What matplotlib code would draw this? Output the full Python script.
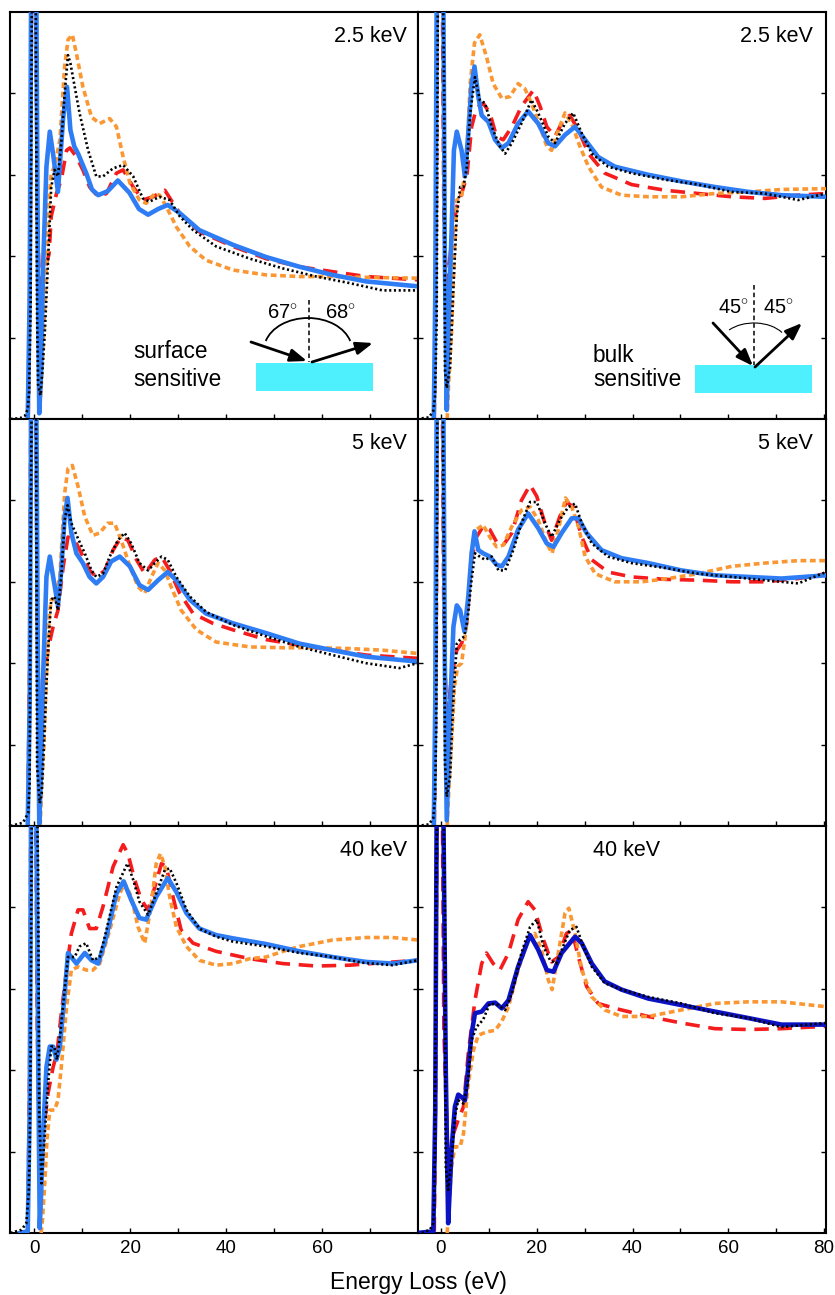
import matplotlib
matplotlib.use("Agg")
import matplotlib.pyplot as plt
from matplotlib.patches import Rectangle, Arc

plt.rcParams['font.family'] = ['Liberation Sans', 'DejaVu Sans']
plt.rcParams['mathtext.fontset'] = 'custom'
plt.rcParams['mathtext.rm'] = 'Liberation Sans'

# ---------------- data (energy loss in eV, intensity in arb. units) ----------------
# top-left: 2.5 keV, surface sensitive
tl_blue_x = [-1.4, -1.0, -0.7, -0.2, 0.4, 0.7, 1.0, 1.4, 1.8, 2.5, 3.2, 3.9, 4.9, 6.0, 6.8, 7.5, 8.3, 9.1, 10.8, 12.0, 13.3, 15.3,
             17.4, 19.8, 21.8, 23.7, 25.8, 27.8, 30.3, 34.4, 41.4, 48.3, 55.3, 62.2, 69.2, 79.9]
tl_blue_y = [0.02, 1.5, 5.2, 7.0, 5.2, 2.0, 0.07, 0.6, 1.87, 3.1, 3.53, 3.25, 2.79, 3.71, 4.08, 3.55, 3.35, 3.26, 3.02, 2.82, 2.75, 2.8,
             2.93, 2.78, 2.58, 2.51, 2.58, 2.63, 2.53, 2.32, 2.14, 1.99, 1.87, 1.77, 1.69, 1.63]
tl_black_x = [-5, -3, -2, -1.4, -1.1, -0.8, -0.5, 0.2, 0.55, 0.76, 1.25, 1.67, 2.15, 2.6, 3.05, 3.5, 4.2, 4.9, 5.6, 6.3, 7.0, 7.5,
              8.4, 9.4, 11.2, 12.9, 14.3, 16.4, 18.5, 20.6, 22.6, 24.0, 26.1, 28.2, 30.3, 33.1, 37.9, 44.9, 51.8, 58.8, 65.7, 72.6, 79.9]
tl_black_y = [0.0, 0.01, 0.04, 0.12, 0.34, 1.42, 6.0, 6.0, 1.26, 0.42, 0.29, 0.6, 1.05, 1.63, 2.24, 2.85, 3.06, 2.98, 3.39, 4.0, 4.47, 4.37,
              4.08, 3.76, 3.3, 2.98, 2.98, 3.08, 3.12, 2.98, 2.71, 2.67, 2.73, 2.69, 2.49, 2.32, 2.12, 1.97, 1.85, 1.75, 1.67, 1.58, 1.58]
tl_red_x = [-1.3, -0.9, -0.5, 0.2, 0.6, 1.1, 2.0, 3.05, 3.5, 4.6, 5.6, 6.7, 7.4, 8.75, 10.1, 11.5, 13.3, 15.0, 17.1, 18.5, 20.6,
            22.6, 24.7, 27.2, 28.5, 30.3, 34.4, 41.4, 48.3, 55.3, 62.2, 69.2, 79.9]
tl_red_y = [0.02, 2.0, 6.0, 6.0, 2.5, 1.54, 1.8, 2.03, 2.49, 2.77, 2.94, 3.3, 3.33, 3.22, 3.06, 2.85, 2.73, 2.77, 3.02, 3.06, 2.85,
            2.69, 2.73, 2.81, 2.69, 2.53, 2.30, 2.12, 1.97, 1.87, 1.81, 1.75, 1.71]
tl_orange_x = [1.0, 1.46, 1.9, 2.5, 3.05, 3.5, 4.2, 5.3, 6.3, 7.0, 7.9, 8.75, 10.1, 11.9, 13.6, 15.7, 17.1, 18.5, 19.9, 21.9, 23.3,
               25.1, 26.1, 27.5, 29.6, 32.4, 35.8, 41.4, 48.3, 55.3, 62.2, 69.2, 79.9]
tl_orange_y = [0.05, 0.44, 1.05, 1.87, 2.69, 3.02, 3.1, 3.43, 4.33, 4.66, 4.72, 4.49, 4.08, 3.71, 3.63, 3.69, 3.59, 3.22, 2.9, 2.69, 2.65,
               2.77, 2.75, 2.61, 2.36, 2.12, 1.95, 1.83, 1.77, 1.75, 1.75, 1.74, 1.73]

# top-right: 2.5 keV, bulk sensitive
tr_blue_x = [-1.5, -1.2, -0.9, -0.3, 0.5, 0.8, 1.2, 1.6, 2.2, 2.7, 3.3, 4.3, 5.0, 5.7, 6.4, 7.0, 7.8, 8.5, 9.9, 11.3, 12.7, 14.1,
             16.1, 18.2, 20.3, 22.4, 23.8, 25.9, 28.0, 30.1, 32.8, 36.3, 43.3, 50.2, 57.2, 64.2, 71.1, 80.4]
tr_blue_y = [0.02, 1.5, 5.2, 7.0, 5.2, 2.0, 0.11, 1.2, 2.28, 3.3, 3.53, 3.3, 2.98, 3.51, 4.12, 4.33, 3.96, 3.73, 3.65, 3.43, 3.33, 3.39,
             3.63, 3.78, 3.63, 3.39, 3.35, 3.49, 3.59, 3.43, 3.22, 3.1, 3.0, 2.92, 2.85, 2.79, 2.75, 2.73]
tr_black_x = [-5, -2.5, -1.6, -1.25, -0.9, -0.6, 0.3, 0.7, 0.84, 1.2, 1.9, 2.6, 3.3, 4.0, 4.7, 5.4, 6.1, 7.1, 8.1, 9.2, 10.6, 12.3,
              13.4, 14.8, 16.8, 18.9, 20.3, 22.4, 23.8, 25.9, 27.6, 29.4, 31.5, 34.9, 39.8, 46.8, 53.7, 60.7, 67.6, 74.6, 80.4]
tr_black_y = [0.0, 0.02, 0.1, 0.27, 1.2, 6.0, 6.0, 3.8, 0.6, 0.38, 0.64, 1.63, 2.49, 2.85, 2.85, 3.1, 3.76, 4.2, 3.92, 3.88, 3.59, 3.35,
              3.26, 3.39, 3.63, 3.92, 3.76, 3.47, 3.39, 3.63, 3.76, 3.51, 3.26, 3.1, 3.02, 2.94, 2.88, 2.79, 2.77, 2.69, 2.77]
tr_red_x = [-1.4, -1.0, -0.7, 0.2, 0.6, 1.2, 2.2, 3.3, 4.3, 5.4, 6.4, 7.4, 8.8, 10.2, 11.6, 13.0, 14.8, 16.8, 19.3, 20.7, 22.1,
            23.8, 25.5, 26.9, 28.7, 30.8, 34.2, 39.8, 46.8, 53.7, 60.7, 67.6, 74.6, 80.4]
tr_red_y = [0.02, 2.0, 6.0, 6.0, 2.5, 1.54, 2.2, 2.61, 2.77, 2.98, 3.59, 3.82, 3.88, 3.76, 3.47, 3.43, 3.59, 3.84, 4.04, 3.84, 3.59,
            3.47, 3.67, 3.73, 3.55, 3.26, 3.02, 2.88, 2.81, 2.77, 2.73, 2.71, 2.75, 2.77]
tr_orange_x = [1.3, 1.5, 2.2, 2.8, 3.3, 4.3, 5.4, 6.1, 7.0, 8.1, 9.5, 10.9, 12.7, 14.4, 16.1, 17.5, 18.9, 20.7, 22.1, 23.1, 24.5,
               25.9, 27.3, 29.0, 30.8, 33.5, 37.7, 43.3, 50.2, 57.2, 64.2, 71.1, 80.4]
tr_orange_y = [0.0, 0.32, 1.05, 2.06, 2.69, 2.73, 3.22, 4.12, 4.62, 4.72, 4.45, 4.12, 3.94, 3.96, 4.12, 4.06, 3.88, 3.59, 3.35, 3.3, 3.55,
               3.76, 3.63, 3.35, 3.1, 2.85, 2.75, 2.73, 2.73, 2.77, 2.79, 2.82, 2.83]

# middle-left: 5 keV, surface
ml_blue_x = [-1.4, -1.0, -0.7, -0.2, 0.4, 0.7, 1.0, 1.4, 1.8, 2.5, 3.2, 3.9, 4.9, 5.6, 6.3, 6.9, 7.7, 8.75, 10.1, 11.5, 12.9, 14.3,
             16.0, 17.8, 19.9, 21.9, 23.7, 25.8, 27.8, 29.6, 32.4, 35.8, 41.4, 48.3, 55.3, 62.2, 69.2, 79.9]
ml_blue_y = [0.02, 1.5, 5.2, 7.0, 5.2, 2.0, 0.03, 0.7, 1.83, 3.06, 3.31, 3.06, 2.71, 3.14, 3.8, 4.03, 3.6, 3.35, 3.23, 3.06, 2.98, 3.06,
             3.25, 3.31, 3.19, 2.96, 2.9, 3.02, 3.12, 3.02, 2.78, 2.61, 2.49, 2.37, 2.24, 2.16, 2.08, 2.02]
ml_black_x = [-5, -2.4, -1.3, -1.0, -0.8, -0.5, 0.3, 0.55, 1.1, 1.5, 2.0, 2.5, 3.05, 3.5, 4.2, 4.9, 5.6, 6.3, 6.9, 7.7, 9.1, 10.5,
              11.9, 12.9, 14.3, 15.7, 17.4, 18.8, 20.2, 21.9, 23.7, 25.1, 26.5, 27.8, 29.6, 32.4, 35.8, 41.4, 48.3, 55.3, 62.2, 69.2,
              76.1, 79.9]
ml_black_y = [0.0, 0.04, 0.16, 0.52, 3.3, 6.0, 6.0, 0.73, 0.28, 0.4, 1.02, 1.75, 2.37, 2.78, 2.82, 2.65, 3.06, 3.76, 3.94, 3.72, 3.53, 3.35,
              3.14, 3.06, 3.1, 3.31, 3.51, 3.6, 3.47, 3.23, 3.14, 3.23, 3.31, 3.27, 3.06, 2.82, 2.63, 2.47, 2.33, 2.2, 2.1, 2.0,
              1.94, 2.0]
ml_red_x = [-1.4, -1.0, -0.7, 0.2, 0.6, 1.0, 1.8, 2.8, 3.9, 4.9, 6.0, 7.0, 8.4, 9.8, 11.5, 12.9, 14.7, 16.4, 18.1, 19.5, 21.3,
            23.0, 25.1, 26.5, 28.2, 30.3, 33.1, 37.2, 41.4, 48.3, 55.3, 62.2, 69.2, 79.9]
ml_red_y = [0.02, 2.0, 6.0, 6.0, 2.5, 1.34, 1.75, 2.16, 2.45, 2.65, 3.19, 3.55, 3.51, 3.35, 3.14, 3.06, 3.14, 3.39, 3.55, 3.51, 3.27,
            3.1, 3.27, 3.31, 3.14, 2.86, 2.61, 2.49, 2.41, 2.29, 2.22, 2.16, 2.1, 2.06]
ml_orange_x = [1.2, 1.46, 2.0, 2.5, 3.05, 3.5, 4.2, 5.3, 6.3, 7.0, 7.9, 9.1, 10.5, 12.2, 13.6, 15.3, 16.7, 18.1, 19.9, 21.6, 23.0,
               24.4, 25.8, 27.2, 28.5, 30.6, 33.8, 37.9, 44.9, 51.8, 58.8, 65.7, 72.6, 79.9]
ml_orange_y = [0.0, 0.4, 1.02, 1.83, 2.57, 2.78, 2.78, 3.06, 4.09, 4.39, 4.43, 4.17, 3.8, 3.57, 3.6, 3.72, 3.72, 3.51, 3.19, 2.94, 2.86,
               3.06, 3.23, 3.14, 2.94, 2.65, 2.41, 2.26, 2.2, 2.19, 2.19, 2.18, 2.16, 2.12]

# middle-right: 5 keV, bulk
mr_blue_x = [-1.5, -1.2, -0.9, -0.3, 0.5, 0.8, 1.2, 1.9, 2.6, 3.3, 4.0, 4.9, 5.7, 6.4, 7.0, 7.8, 8.8, 10.2, 11.6, 12.7, 14.1,
             16.1, 18.2, 20.3, 22.1, 23.5, 25.2, 27.3, 28.7, 30.4, 33.5, 37.7, 43.3, 50.2, 57.2, 64.2, 71.1, 80.4]
mr_blue_y = [0.02, 1.5, 5.2, 7.0, 5.2, 2.0, 0.07, 1.43, 2.45, 2.71, 2.65, 2.39, 2.82, 3.35, 3.62, 3.39, 3.35, 3.31, 3.21, 3.19, 3.31,
             3.64, 3.84, 3.66, 3.47, 3.43, 3.6, 3.78, 3.78, 3.6, 3.39, 3.29, 3.23, 3.14, 3.08, 3.06, 3.04, 3.08]
mr_black_x = [-5, -2.5, -1.6, -1.25, -1.0, -0.7, 0.3, 0.7, 0.84, 1.2, 1.9, 2.6, 3.3, 4.0, 4.9, 5.6, 6.3, 7.1, 8.1, 9.2, 10.6, 12.0,
              13.4, 15.1, 16.8, 18.6, 20.0, 21.7, 23.1, 24.8, 26.6, 28.0, 29.4, 31.5, 34.9, 39.8, 46.8, 53.7, 60.7, 67.6, 74.6, 80.4]
mr_black_y = [0.0, 0.02, 0.1, 0.34, 1.16, 6.0, 6.0, 2.59, 0.77, 0.36, 0.61, 1.59, 2.24, 2.29, 2.33, 2.57, 2.98, 3.35, 3.31, 3.27, 3.31,
              3.14, 3.14, 3.39, 3.72, 3.98, 3.98, 3.72, 3.55, 3.76, 3.92, 3.96, 3.72, 3.47, 3.31, 3.23, 3.17, 3.1, 3.06, 3.02, 2.98, 3.12]
mr_red_x = [-1.4, -1.0, -0.7, 0.2, 0.6, 1.2, 2.2, 3.3, 4.3, 5.4, 6.4, 7.4, 8.8, 10.2, 11.6, 13.0, 14.8, 16.8, 18.6, 20.0, 21.7,
            23.1, 24.8, 26.2, 27.6, 29.4, 31.5, 34.9, 39.8, 46.8, 53.7, 60.7, 67.6, 74.6, 80.4]
mr_red_y = [0.02, 2.0, 6.0, 6.0, 2.5, 1.26, 1.83, 2.16, 2.24, 2.49, 3.27, 3.55, 3.68, 3.64, 3.49, 3.45, 3.6, 4.0, 4.19, 4.05, 3.72,
            3.51, 3.8, 3.98, 3.92, 3.55, 3.27, 3.12, 3.06, 3.03, 3.02, 3.0, 3.0, 3.04, 3.1]
mr_orange_x = [1.3, 1.5, 2.2, 2.8, 3.5, 4.3, 5.4, 6.4, 7.4, 8.8, 10.2, 11.6, 13.0, 14.8, 16.8, 18.6, 20.3, 22.1, 23.2, 24.5, 26.0,
               27.3, 28.7, 30.1, 32.2, 36.3, 41.9, 47.5, 53.7, 60.7, 67.6, 74.6, 80.4]
mr_orange_y = [0.0, 0.28, 1.02, 1.71, 1.96, 2.0, 2.49, 3.39, 3.64, 3.7, 3.55, 3.43, 3.45, 3.68, 3.88, 3.92, 3.76, 3.47, 3.35, 3.64, 4.03,
               3.92, 3.68, 3.31, 3.1, 3.0, 3.0, 3.04, 3.1, 3.19, 3.23, 3.26, 3.26]

# bottom-left: 40 keV, surface
bl_blue_x = [-3.0, -1.4, -1.0, -0.7, -0.2, 0.4, 0.8, 1.1, 1.4, 1.8, 2.5, 3.2, 3.9, 4.6, 5.3, 6.3, 7.0, 7.7, 8.75, 10.5, 11.9,
             13.3, 15.0, 17.1, 18.6, 20.2, 21.9, 23.3, 25.4, 27.8, 29.6, 31.7, 34.4, 37.9, 41.4, 48.3, 55.3, 62.2, 69.2, 74.7, 79.9]
bl_blue_y = [0.0, 0.02, 1.5, 5.2, 7.0, 5.2, 2.0, 0.06, 0.5, 1.22, 2.04, 2.29, 2.29, 2.13, 2.29, 2.94, 3.44, 3.39, 3.31, 3.44, 3.35,
             3.31, 3.64, 4.17, 4.32, 4.09, 3.87, 3.85, 4.13, 4.36, 4.19, 3.93, 3.74, 3.66, 3.62, 3.55, 3.46, 3.39, 3.33, 3.31, 3.35]
bl_black_x = [-5, -2.7, -1.7, -1.2, -1.0, -0.8, -0.5, 0.4, 0.76, 1.0, 1.46, 2.15, 2.85, 3.5, 4.1, 4.7, 5.4, 6.3, 7.0, 8.4, 9.4, 10.8,
              12.2, 13.6, 15.0, 17.1, 19.4, 20.6, 21.9, 23.7, 25.4, 27.2, 28.2, 29.6, 31.7, 34.4, 37.9, 41.4, 48.3, 55.3, 62.2, 68.5,
              74.7, 79.9]
bl_black_y = [0.0, 0.04, 0.12, 0.49, 0.94, 2.25, 6.0, 6.0, 4.42, 1.47, 0.61, 1.22, 1.84, 2.29, 2.29, 2.13, 2.45, 2.99, 3.39, 3.39, 3.52,
              3.56, 3.35, 3.39, 3.72, 4.25, 4.54, 4.34, 4.07, 3.91, 4.17, 4.46, 4.48, 4.3, 3.97, 3.74, 3.64, 3.58, 3.52, 3.44, 3.39,
              3.32, 3.29, 3.35]
bl_red_x = [-1.4, -1.0, -0.7, 0.2, 0.6, 1.1, 1.8, 2.85, 3.9, 4.7, 5.6, 6.7, 7.7, 9.1, 10.1, 11.5, 12.9, 14.3, 16.4, 18.5, 19.5,
            20.9, 22.3, 23.7, 25.1, 26.5, 27.5, 28.9, 30.6, 33.1, 37.9, 44.9, 51.8, 58.8, 65.7, 72.6, 79.9]
bl_red_y = [0.02, 2.0, 6.0, 6.0, 2.5, 0.9, 1.22, 1.72, 2.04, 2.21, 2.7, 3.23, 3.68, 3.97, 3.97, 3.74, 3.74, 4.01, 4.5, 4.77, 4.66,
            4.34, 4.09, 3.97, 4.25, 4.54, 4.5, 4.13, 3.72, 3.56, 3.46, 3.37, 3.31, 3.28, 3.29, 3.32, 3.35]
bl_orange_x = [1.4, 1.67, 2.15, 2.6, 3.2, 4.2, 4.9, 5.6, 6.7, 7.7, 9.1, 10.8, 12.2, 13.6, 15.7, 17.8, 18.8, 20.2, 21.6, 23.0, 24.4,
               25.4, 26.3, 27.2, 28.2, 29.6, 31.7, 34.4, 37.9, 41.4, 44.9, 48.3, 51.8, 55.3, 58.8, 62.2, 69.2, 74.7, 79.9]
bl_orange_y = [0.0, 0.16, 0.61, 1.14, 1.51, 1.51, 1.63, 2.04, 2.78, 3.23, 3.27, 3.23, 3.23, 3.31, 3.72, 4.17, 4.3, 4.13, 3.76, 3.56, 4.05,
               4.54, 4.66, 4.5, 4.13, 3.76, 3.52, 3.35, 3.29, 3.31, 3.37, 3.39, 3.46, 3.52, 3.56, 3.6, 3.63, 3.63, 3.6]

# bottom-right: 40 keV, bulk (theory drawn in dark blue here)
br_blue_x = [-5, -1.6, -1.2, -0.9, -0.4, 0.5, 1.0, 1.5, 1.8, 2.2, 2.9, 3.6, 4.3, 5.0, 5.7, 6.4, 7.1, 8.5, 9.9, 11.3, 12.7, 14.1,
             16.1, 18.6, 20.3, 22.1, 23.5, 25.2, 28.0, 29.4, 31.5, 34.2, 37.7, 43.3, 50.2, 57.2, 64.2, 71.1, 80.4]
br_blue_y = [0.0, 0.02, 1.5, 5.2, 7.0, 5.2, 2.0, 0.12, 0.5, 1.02, 1.55, 1.7, 1.67, 1.63, 2.04, 2.45, 2.7, 2.72, 2.82, 2.83, 2.76, 2.86,
             3.27, 3.66, 3.48, 3.23, 3.21, 3.44, 3.64, 3.56, 3.31, 3.09, 2.99, 2.88, 2.8, 2.72, 2.64, 2.56, 2.56]
br_black_x = [-5, -4.0, -2.3, -1.6, -1.4, -1.25, -1.0, -0.7, 0.4, 0.84, 1.0, 1.5, 2.2, 2.9, 3.6, 4.7, 5.6, 6.4, 7.4, 8.8, 10.2, 12.0,
              13.4, 14.8, 16.8, 18.6, 20.0, 21.4, 22.8, 24.1, 25.5, 26.9, 28.3, 29.7, 31.5, 34.2, 37.7, 43.3, 50.2, 57.2, 64.2, 71.1,
              80.4]
br_black_y = [0.0, 0.0, 0.04, 0.12, 0.41, 1.18, 4.25, 6.0, 6.0, 3.89, 0.81, 0.53, 0.9, 1.43, 1.63, 1.59, 1.84, 2.37, 2.53, 2.62, 2.82,
              2.8, 2.74, 2.94, 3.44, 3.76, 3.85, 3.52, 3.35, 3.31, 3.52, 3.72, 3.76, 3.52, 3.27, 3.07, 2.99, 2.9, 2.82, 2.7, 2.64,
              2.53, 2.58]
br_red_x = [-1.4, -1.1, -0.8, 0.2, 0.6, 1.5, 2.6, 3.6, 4.7, 5.7, 7.1, 8.5, 9.5, 10.9, 12.3, 14.1, 16.1, 18.2, 19.6, 21.4, 23.1,
            24.5, 26.2, 27.3, 28.7, 30.4, 32.8, 36.3, 43.3, 50.2, 57.2, 64.2, 71.1, 80.4]
br_red_y = [0.02, 2.0, 6.0, 6.0, 2.5, 0.81, 1.22, 1.39, 1.55, 2.21, 2.86, 3.31, 3.44, 3.31, 3.23, 3.44, 3.85, 4.07, 3.97, 3.6, 3.33,
            3.39, 3.68, 3.72, 3.39, 3.03, 2.82, 2.76, 2.66, 2.58, 2.51, 2.5, 2.51, 2.54]
br_orange_x = [1.3, 1.5, 2.2, 2.9, 4.0, 4.7, 5.7, 6.8, 7.8, 9.5, 11.3, 12.7, 14.1, 16.1, 18.2, 19.6, 21.0, 22.4, 23.2, 24.5, 25.9,
               26.7, 28.0, 29.4, 31.5, 34.2, 37.7, 43.3, 50.2, 57.2, 64.2, 71.1, 80.4]
br_orange_y = [0.0, 0.2, 0.81, 1.06, 1.06, 1.22, 1.84, 2.25, 2.43, 2.47, 2.49, 2.6, 2.78, 3.23, 3.6, 3.68, 3.48, 3.11, 2.99, 3.44, 3.93,
               3.99, 3.68, 3.23, 2.9, 2.74, 2.66, 2.66, 2.74, 2.82, 2.84, 2.84, 2.78]

panel_labels = ['2.5 keV', '2.5 keV', '5 keV', '5 keV', '40 keV', '40 keV']

BLUE = '#2f7df4'
DARKBLUE = '#0a12c4'
RED = '#f41c1c'
ORANGE = '#fb9733'

panels = [
    (tl_blue_x, tl_blue_y, tl_black_x, tl_black_y, tl_red_x, tl_red_y, tl_orange_x, tl_orange_y, BLUE),
    (tr_blue_x, tr_blue_y, tr_black_x, tr_black_y, tr_red_x, tr_red_y, tr_orange_x, tr_orange_y, BLUE),
    (ml_blue_x, ml_blue_y, ml_black_x, ml_black_y, ml_red_x, ml_red_y, ml_orange_x, ml_orange_y, BLUE),
    (mr_blue_x, mr_blue_y, mr_black_x, mr_black_y, mr_red_x, mr_red_y, mr_orange_x, mr_orange_y, BLUE),
    (bl_blue_x, bl_blue_y, bl_black_x, bl_black_y, bl_red_x, bl_red_y, bl_orange_x, bl_orange_y, BLUE),
    (br_blue_x, br_blue_y, br_black_x, br_black_y, br_red_x, br_red_y, br_orange_x, br_orange_y, DARKBLUE),
]

W, H = 835, 1295
fig = plt.figure(figsize=(W / 100, H / 100), dpi=100)

col_left = [10, 418]
col_w = 408
row_top = [12, 419, 826]
row_h = 407
ticks = list(range(0, 81, 10))

for i, p in enumerate(panels):
    r, c = divmod(i, 2)
    bx, by, kx, ky, rx, ry, ox, oy, bcol = p
    ax = fig.add_axes([col_left[c] / W, 1 - (row_top[r] + row_h) / H, col_w / W, row_h / H])
    ax.plot(rx, ry, color=RED, lw=2.6, ls=(0, (4, 2.4)), zorder=2)
    ax.plot(ox, oy, color=ORANGE, lw=2.6, ls=(0, (1.6, 1.0)), zorder=3)
    ax.plot(bx, by, color=bcol, lw=3.3, solid_joinstyle='round', zorder=4)
    ax.plot(kx, ky, color='black', lw=1.9, ls=(0, (0.8, 1.0)), zorder=5)

    if c == 0:
        ax.set_xlim(-5.1, 79.9)
        maxlab = 60
    else:
        ax.set_xlim(-4.8, 80.4)
        maxlab = 80
    ax.set_ylim(0, 5)
    ax.set_xticks(ticks)
    ax.set_yticks([1, 2, 3, 4])
    ax.set_yticklabels([])
    if r == 2:
        ax.set_xticklabels([str(v) if (v % 20 == 0 and v <= maxlab) else '' for v in ticks])
    else:
        ax.set_xticklabels([])
    ax.tick_params(direction='in', length=3.8, width=1.0, labelsize=13.5, pad=5,
                   left=True, right=True, top=False, bottom=True)
    for s in ax.spines.values():
        s.set_linewidth(1.5)

    if i == 5:
        ax.text(0.512, 0.941, panel_labels[i], transform=ax.transAxes, ha='center', va='center', fontsize=15.5)
    else:
        ax.text(0.973 if c == 0 else 0.968, 0.941, panel_labels[i], transform=ax.transAxes,
                ha='right', va='center', fontsize=15.5)

fig.text(418 / W, 1 - 1282 / H, 'Energy Loss (eV)', ha='center', va='center', fontsize=16.5)

# ---------------- geometry sketches (drawn in figure pixel coordinates) ----------------
ov = fig.add_axes([0, 0, 1, 1], facecolor='none', zorder=10)
ov.set_xlim(0, W)
ov.set_ylim(H, 0)
ov.axis('off')

cyan = '#4ff0fd'
arrow = dict(arrowstyle='-|>,head_length=1.0,head_width=0.38', color='black', lw=2.0, shrinkA=0, shrinkB=0)

# surface sensitive (grazing 67/68 deg)
ov.add_patch(Rectangle((256, 363), 117, 28, facecolor=cyan, edgecolor='none'))
ov.plot([309, 309], [300, 362], color='black', lw=1.1, ls=(0, (3, 2)))
ov.add_patch(Arc((308, 350), 88, 64, theta1=192, theta2=348, color='black', lw=1.3))
ov.annotate('', xy=(307, 361), xytext=(251, 342), arrowprops=arrow)
ov.annotate('', xy=(373, 343), xytext=(312, 362), arrowprops=arrow)
ov.text(282, 313, r'67$^{\circ}$', ha='center', va='center', fontsize=14.5)
ov.text(340, 313, r'68$^{\circ}$', ha='center', va='center', fontsize=14.5)
ov.text(133, 352, 'surface', ha='left', va='center', fontsize=16.3)
ov.text(133, 380, 'sensitive', ha='left', va='center', fontsize=16.3)

# bulk sensitive (45/45 deg)
ov.add_patch(Rectangle((695, 365), 117, 28, facecolor=cyan, edgecolor='none'))
ov.plot([754, 754], [285, 365], color='black', lw=1.1, ls=(0, (3, 2)))
ov.add_patch(Arc((754, 345), 68, 44, theta1=211, theta2=336, color='black', lw=0.8))
ov.annotate('', xy=(753, 366), xytext=(713, 323), arrowprops=arrow)
ov.annotate('', xy=(802, 323), xytext=(755, 367), arrowprops=arrow)
ov.text(733, 308, r'45$^{\circ}$', ha='center', va='center', fontsize=14.5)
ov.text(778, 308, r'45$^{\circ}$', ha='center', va='center', fontsize=14.5)
ov.text(593, 355, 'bulk', ha='left', va='center', fontsize=16.3)
ov.text(593, 380, 'sensitive', ha='left', va='center', fontsize=16.3)

fig.savefig('out.png', dpi=100)
